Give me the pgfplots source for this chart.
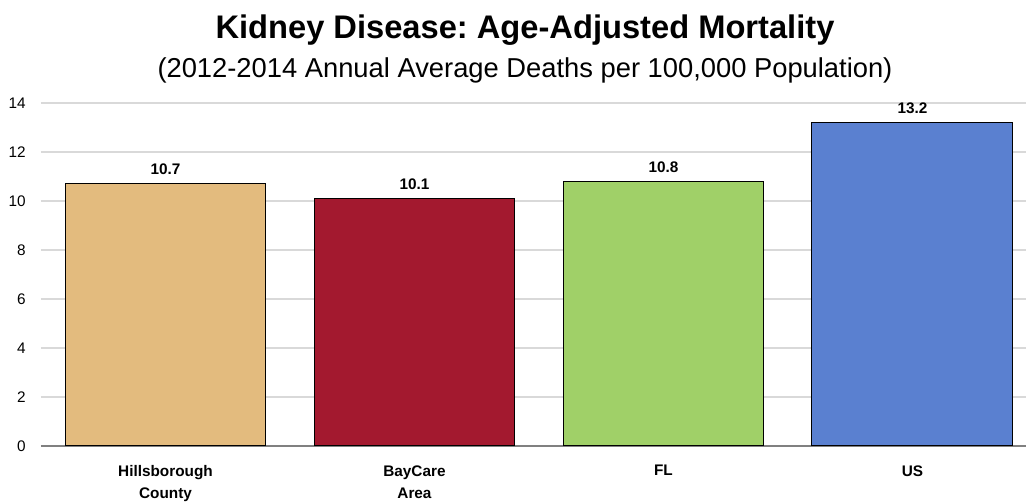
\documentclass[border=0pt]{standalone}
\usepackage{pgfplots}
\pgfplotsset{compat=1.18}
\usepackage{fontspec}
\setmainfont{Liberation Sans}
\frenchspacing

\definecolor{cTan}{HTML}{E3BB7E}
\definecolor{cRed}{HTML}{A3192F}
\definecolor{cGreen}{HTML}{A0D068}
\definecolor{cBlue}{HTML}{5A80D0}
\definecolor{gridgray}{HTML}{D9D9D9}

\begin{document}
\begin{tikzpicture}
\begin{axis}[
    scale only axis,
    width=738.75pt, height=257.25pt,
    ybar, bar width=0.807, bar shift=0pt,
    xmin=-0.5, xmax=3.456,
    ymin=0, ymax=14,
    ytick={0,2,4,6,8,10,12,14},
    xtick={0,1,2,3},
    xticklabels={Hillsborough\\County, BayCare\\Area, FL, US},
    xticklabel style={align=center, font=\fontsize{11.5}{16.5}\selectfont\bfseries, yshift=-11pt},
    yticklabel style={font=\fontsize{11.5}{13}\selectfont, xshift=-8pt},
    /pgf/number format/assume math mode=true,
    major tick length=0pt,
    axis x line*=bottom, axis y line*=left,
    x axis line style={draw=gray, line width=1pt},
    y axis line style={draw=none},
    ymajorgrids, grid style={gridgray, line width=0.9pt},
    nodes near coords={\pgfmathprintnumber[fixed,fixed zerofill,precision=1]{\pgfplotspointmeta}},
    nodes near coords style={font=\fontsize{11.5}{13}\selectfont\bfseries, yshift=3pt},
    clip=false,
]
\addplot[fill=cTan, draw=black, line width=0.75pt] coordinates {(0,10.7)};
\addplot[fill=cRed, draw=black, line width=0.75pt] coordinates {(1,10.1)};
\addplot[fill=cGreen, draw=black, line width=0.75pt] coordinates {(2,10.8)};
\addplot[fill=cBlue, draw=black, line width=0.75pt] coordinates {(3,13.2)};
\end{axis}
\node[font=\fontsize{24.5}{28}\selectfont\bfseries, anchor=base] at (363pt,305.5pt) {Kidney Disease: Age-Adjusted Mortality};
\node[font=\fontsize{20.5}{24}\selectfont, anchor=base] at (363pt,276pt) {(2012-2014 Annual Average Deaths per 100,000 Population)};
\pgfresetboundingbox
\path (-30.75pt,-42pt) rectangle (738.75pt,334.5pt);
\end{tikzpicture}
\end{document}
